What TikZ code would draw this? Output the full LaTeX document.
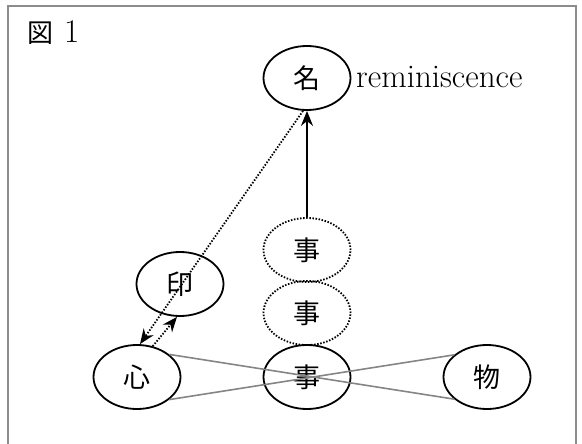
\documentclass[tikz,border=0pt]{standalone}
\usepackage{fontspec}
\newfontfamily\jp{Noto Sans CJK JP}
\usetikzlibrary{shapes.geometric,arrows.meta}
\definecolor{framegray}{HTML}{8C8C8C}
\definecolor{linegray}{HTML}{858585}
\tikzset{
  term/.style={ellipse,draw=black,line width=1.8pt,minimum width=87pt,minimum height=64pt,
    inner sep=0pt,font=\jp\fontsize{27}{27}\selectfont},
  dots/.style={line width=1.8pt,dash pattern=on 1.5pt off 1.6pt},
  ghost/.style={term,dots},
  cross/.style={draw=linegray,line width=1.6pt},
  link/.style={line width=1.8pt,-{Stealth[length=15pt,width=12pt]}},
  dotlink/.style={link,dots},
  caption/.style={font=\fontsize{33}{33}\selectfont,inner sep=0pt}
}
\begin{document}
\begin{tikzpicture}[x=1pt,y=-1pt]
  \useasboundingbox (0,0) rectangle (582,444);
  % open frame
  \draw[framegray,line width=2pt] (8,446) -- (8,6) -- (576,6) -- (576,446);
  \node[caption,anchor=base west] (fig) at (27,43)
    {{\jp\fontsize{26}{26}\selectfont 図}\hspace{11pt}1};

  % terms
  \node[term]  (na)  at (307,78)  {名};
  \node[caption,anchor=base west] (rem) at (356,88) {reminiscence};
  \node[ghost] (ji3) at (307,250) {事};
  \node[ghost] (ji2) at (307,313) {事};
  \node[term]  (ji1) at (307,377) {事};
  \node[term]  (in)  at (180,284) {印};
  \node[term]  (sh)  at (137,377) {心};
  \node[term]  (mo)  at (487,377) {物};

  % crossing lines between mind and thing
  \draw[cross] (sh.35) -- (mo.214);
  \draw[cross] (sh.-35) -- (mo.146);

  % arrows
  \draw[link] (ji3.north) -- (na.south);
  \draw[dotlink] ([xshift=-4pt]na.south) -- ([xshift=3pt]sh.north);
  \draw[dotlink] (sh.63) -- ([xshift=-3pt]in.south);
\end{tikzpicture}
\end{document}
